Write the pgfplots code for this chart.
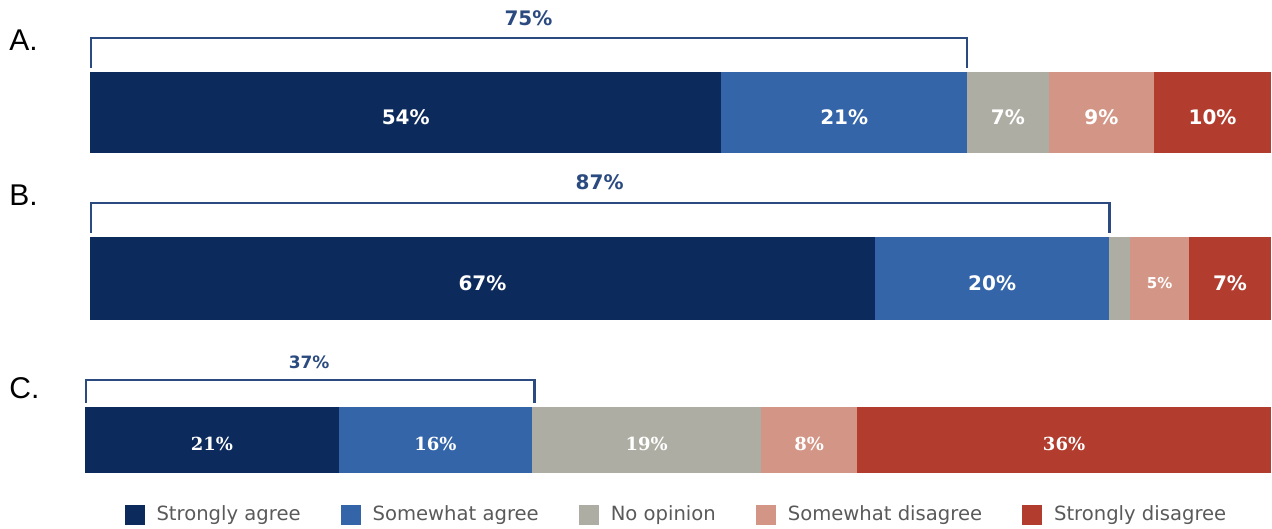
\documentclass[border=0pt]{standalone}
\usepackage{pgfplots}
\pgfplotsset{compat=1.18}
\usepackage{fontspec}
\setmainfont{DejaVu Sans}
\newfontfamily\arialf{Liberation Sans}
\newfontfamily\serifb{DejaVu Serif}
\definecolor{cNavy}{HTML}{0C2A5B}
\definecolor{cBlue}{HTML}{3465A8}
\definecolor{cGray}{HTML}{AEADA4}
\definecolor{cPink}{HTML}{D39686}
\definecolor{cRed}{HTML}{B23D2E}
\definecolor{cBrk}{HTML}{2B4A80}
\definecolor{cLeg}{HTML}{5A5A5A}
\tikzset{
  lab/.style={font=\bfseries\fontsize{10}{10}\selectfont, text=white, yshift=-2.2pt},
  labc/.style={font=\serifb\bfseries\fontsize{9}{9}\selectfont, text=white, yshift=-1.8pt},
}
\begin{document}
\begin{tikzpicture}
\path[use as bounding box] (0pt,0pt) rectangle (636pt,-264.5pt);
% letters
\node[font=\arialf\fontsize{15}{15}\selectfont, anchor=west, inner sep=0pt] at (4.5pt,-20pt) {A.};
\node[font=\arialf\fontsize{15}{15}\selectfont, anchor=west, inner sep=0pt] at (4.5pt,-97.5pt) {B.};
\node[font=\arialf\fontsize{15}{15}\selectfont, anchor=west, inner sep=0pt] at (4.5pt,-194pt) {C.};

% ---- A ----
\begin{axis}[xbar stacked, hide axis, scale only axis, clip=false,
  ymin=0.5, ymax=1.5, xmin=0, xmax=101,
  at={(45pt,-76.5pt)}, anchor=south west,
  width=590.5pt, height=40.5pt, bar width=40.5pt]
\addplot[fill=cNavy, draw=none] coordinates {(54,1)};
\addplot[fill=cBlue, draw=none] coordinates {(21,1)};
\addplot[fill=cGray, draw=none] coordinates {(7,1)};
\addplot[fill=cPink, draw=none] coordinates {(9,1)};
\addplot[fill=cRed, draw=none] coordinates {(10,1)};
\draw[cBrk, line width=1.2pt] (axis cs:0.1,1.55) -- (axis cs:0.1,1.92) -- (axis cs:75,1.92) -- (axis cs:75,1.55);
\node[font=\bfseries\fontsize{10}{10}\selectfont, text=cBrk] at (axis cs:37.5,2.17) {75\%};
\coordinate (A1) at (axis cs:27,1);
\coordinate (A2) at (axis cs:64.5,1);
\coordinate (A3) at (axis cs:78.5,1);
\coordinate (A4) at (axis cs:86.5,1);
\coordinate (A5) at (axis cs:96,1);
\end{axis}
\node[lab] at (A1) {54\%};
\node[lab] at (A2) {21\%};
\node[lab] at (A3) {7\%};
\node[lab] at (A4) {9\%};
\node[lab] at (A5) {10\%};

% ---- B ----
\begin{axis}[xbar stacked, hide axis, scale only axis, clip=false,
  ymin=0.5, ymax=1.5, xmin=0, xmax=100.8,
  at={(45pt,-160pt)}, anchor=south west,
  width=590.5pt, height=41.5pt, bar width=41.5pt]
\addplot[fill=cNavy, draw=none] coordinates {(67,1)};
\addplot[fill=cBlue, draw=none] coordinates {(20,1)};
\addplot[fill=cGray, draw=none] coordinates {(1.8,1)};
\addplot[fill=cPink, draw=none] coordinates {(5,1)};
\addplot[fill=cRed, draw=none] coordinates {(7,1)};
\draw[cBrk, line width=1.2pt] (axis cs:0.1,1.55) -- (axis cs:0.1,1.91) -- (axis cs:87,1.91) -- (axis cs:87,1.55);
\node[font=\bfseries\fontsize{10}{10}\selectfont, text=cBrk] at (axis cs:43.5,2.16) {87\%};
\coordinate (B1) at (axis cs:33.5,1);
\coordinate (B2) at (axis cs:77,1);
\coordinate (B4) at (axis cs:91.3,1);
\coordinate (B5) at (axis cs:97.3,1);
\end{axis}
\node[lab] at (B1) {67\%};
\node[lab] at (B2) {20\%};
\node[lab, font=\bfseries\fontsize{7.5}{7.5}\selectfont] at (B4) {5\%};
\node[lab] at (B5) {7\%};

% ---- C ----
\begin{axis}[xbar stacked, hide axis, scale only axis, clip=false,
  ymin=0.5, ymax=1.5, xmin=0, xmax=100,
  at={(42.5pt,-236.5pt)}, anchor=south west,
  width=593pt, height=33pt, bar width=33pt,
  legend columns=5,
  legend style={at={(rel axis cs:0.033,-0.636)}, anchor=west, draw=none, inner sep=0pt,
    font=\fontsize{9.8}{9.8}\selectfont, text=cLeg,
    /tikz/every even column/.append style={column sep=18pt},
    /tikz/every odd column/.append style={column sep=4pt}},
  legend image code/.code={\fill[#1,draw=none] (0pt,-5pt) rectangle (10pt,5pt);},
]
\addplot[fill=cNavy, draw=none] coordinates {(21.4,1)};
\addplot[fill=cBlue, draw=none] coordinates {(16.3,1)};
\addplot[fill=cGray, draw=none] coordinates {(19.3,1)};
\addplot[fill=cPink, draw=none] coordinates {(8.1,1)};
\addplot[fill=cRed, draw=none] coordinates {(34.9,1)};
\legend{Strongly agree, Somewhat agree, No opinion, Somewhat disagree, Strongly disagree}
\draw[cBrk, line width=1.2pt] (axis cs:0.1,1.56) -- (axis cs:0.1,1.91) -- (axis cs:37.9,1.91) -- (axis cs:37.9,1.56);
\node[font=\bfseries\fontsize{8.5}{8.5}\selectfont, text=cBrk] at (axis cs:18.9,2.17) {37\%};
\coordinate (C1) at (axis cs:10.7,1);
\coordinate (C2) at (axis cs:29.55,1);
\coordinate (C3) at (axis cs:47.35,1);
\coordinate (C4) at (axis cs:61.05,1);
\coordinate (C5) at (axis cs:82.55,1);
\end{axis}
\node[labc] at (C1) {21\%};
\node[labc] at (C2) {16\%};
\node[labc] at (C3) {19\%};
\node[labc] at (C4) {8\%};
\node[labc] at (C5) {36\%};
\end{tikzpicture}
\end{document}
